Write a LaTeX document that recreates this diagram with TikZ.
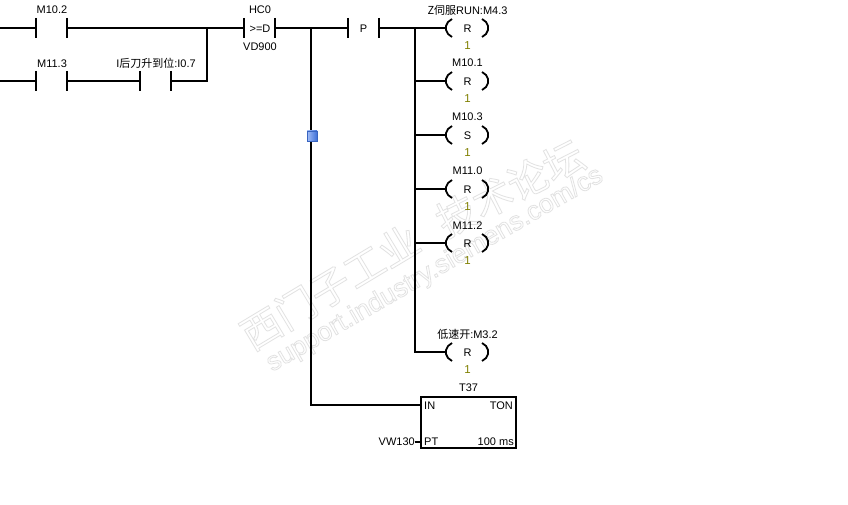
\documentclass[tikz,border=0pt]{standalone}
\usepackage{fontspec}
\setmainfont{Liberation Sans}
\newfontfamily\cjk{Noto Sans CJK SC}
\definecolor{wm}{RGB}{226,226,226}
\definecolor{olive1}{RGB}{128,128,0}
\definecolor{blue1}{RGB}{70,125,240}
\newcommand{\outl}{\special{pdf:code q 1 Tr 0.8 w}}
\newcommand{\outr}{\special{pdf:code Q}}
\tikzset{
  x=1pt,y=-1pt,
  wire/.style={draw=black,line width=2pt},
  bar/.style={draw=black,line width=2pt},
  lbl/.style={font=\fontsize{11}{12}\selectfont,inner sep=0pt,text=black,yshift=-0.7pt},
  val/.style={font=\fontsize{11.5}{12}\selectfont,inner sep=0pt,text=olive1},
  paren/.style={draw=black,line width=1.8pt},
  wmark/.style={inner sep=0pt,text=wm},
  pt/.style={inner sep=0pt,minimum size=0pt}
}
% contact: #1 name, #2 left x, #3 right x, #4 y
\newcommand{\contact}[4]{%
  \coordinate (#1l) at (#2,#4);
  \coordinate (#1r) at (#3,#4);
  \draw[bar] (#2,#4-10) -- (#2,#4+10);
  \draw[bar] (#3,#4-10) -- (#3,#4+10);
}
% coil: #1 name, #2 y, #3 letter, #4 label
\newcommand{\coil}[4]{%
  \node[lbl] (#1) at (467.5,#2) {#3};
  \coordinate (#1in) at (445,#2);
  \node[lbl] (#1t) at (467.5,#2-18.5) {#4};
  \node[val] (#1v) at (467.5,#2+17.5) {1};
  \draw[paren] (452,#2-9) -- (448,#2-6) -- (446,#2-2) -- (446,#2+2) -- (448,#2+6) -- (452,#2+9);
  \draw[paren] (482,#2-9) -- (486,#2-6) -- (488,#2-2) -- (488,#2+2) -- (486,#2+6) -- (482,#2+9);
}
\begin{document}
\begin{tikzpicture}
\useasboundingbox (0,0) rectangle (848,505);
\fill[white] (0,0) rectangle (848,505);

% watermark
\node[wmark,rotate=31,font=\cjk\fontsize{40}{40}\selectfont] (wma) at (330,287) {\outl 西门子工业\outr};
\node[wmark,rotate=27,font=\cjk\fontsize{40}{40}\selectfont] (wmb) at (510,188) {\outl 技术论坛\outr};
\node[wmark,rotate=30,font=\fontsize{26.5}{27}\selectfont] (wmc) at (435,270) {\outl support.industry.siemens.com/cs\outr};

% rung starts
\coordinate (s1) at (0,28);
\coordinate (s2) at (0,81);

\contact{a}{36}{67}{28}
\contact{b}{36}{67}{81}
\contact{c}{140}{171}{81}
\contact{d}{244}{275}{28}
\contact{p}{348}{379}{28}

\coordinate (j1) at (207,28);
\coordinate (j2) at (207,81);
\coordinate (j3) at (311,28);
\coordinate (j4) at (311,405);
\coordinate (j5) at (415,28);

\coil{c1}{28}{R}{{\cjk Z伺服}RUN:M4.3}
\coil{c2}{81}{R}{M10.1}
\coil{c3}{135}{S}{M10.3}
\coil{c4}{189}{R}{M11.0}
\coil{c5}{243}{R}{M11.2}
\coil{c6}{352}{R}{{\cjk 低速开}:M3.2}

\draw[wire] (s1) -- (al);
\draw[wire] (ar) -- (dl);
\draw[wire] (s2) -- (bl);
\draw[wire] (br) -- (cl);
\draw[wire] (cr) -- (j2) -- (j1);
\draw[wire] (dr) -- (pl);
\draw[wire] (pr) -- (c1in);
\draw[wire] (j5) |- (c6in);
\draw[wire] (j5 |- c2in) -- (c2in);
\draw[wire] (j5 |- c3in) -- (c3in);
\draw[wire] (j5 |- c4in) -- (c4in);
\draw[wire] (j5 |- c5in) -- (c5in);

\node[lbl] (la) at (52,9.5) {M10.2};
\node[lbl] (lb) at (52,63) {M11.3};
\node[lbl] (lc) at (156,63) {I{\cjk 后刀升到位}:I0.7};
\node[lbl] (ld) at (260,9.5) {HC0};
\node[lbl] (de) at (260,28) {>=D};
\node[lbl] (lf) at (260,46) {VD900};
\node[lbl] (pe) at (363.5,28) {P};

% timer
\node[draw=black,line width=2pt,minimum width=95pt,minimum height=51pt,inner sep=0pt] (ton) at (468.5,422.5) {};
\draw[wire] (j3) -- (j4) -- (ton.west |- j4);
\node[lbl] (t37) at (468.5,387) {T37};
\node[lbl,anchor=west] (in) at (424,405) {IN};
\node[lbl,anchor=east] (tn) at (513,405) {TON};
\node[lbl,anchor=west] (ptl) at (424,441) {PT};
\node[lbl,anchor=east] (ms) at (514,441) {100 ms};
\node[lbl,anchor=east] (vw) at (415,441) {VW130};
\draw[wire] (vw.east) -- (ton.west |- vw.east);

% selection marker
\node[draw=blue1!80!black,line width=0.3pt,minimum size=10pt,inner sep=0pt,left color=blue1!50!white,right color=blue1!90!black] (mk) at (312,136) {};
\end{tikzpicture}
\end{document}
